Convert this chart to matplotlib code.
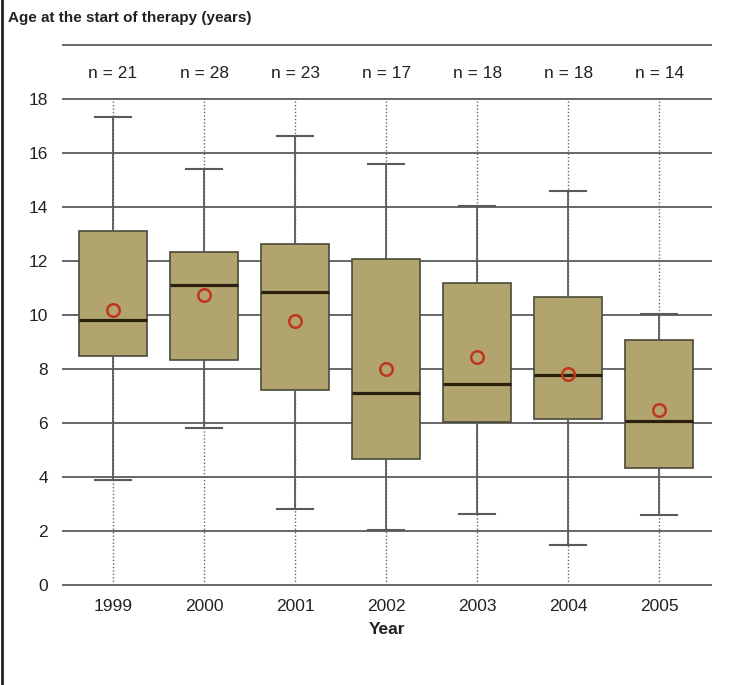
import matplotlib.pyplot as plt
import matplotlib.lines as mlines

plt.rcParams['font.family'] = ['Liberation Sans Narrow', 'Liberation Sans', 'DejaVu Sans']

years = ['1999', '2000', '2001', '2002', '2003', '2004', '2005']
n_counts = [21, 28, 23, 17, 18, 18, 14]
whisker_lo = [3.89, 5.81, 2.81, 2.04, 2.63, 1.48, 2.59]
q1 = [8.48, 8.33, 7.22, 4.67, 6.04, 6.15, 4.33]
median = [9.81, 11.11, 10.85, 7.11, 7.44, 7.78, 6.07]
q3 = [13.11, 12.33, 12.63, 12.07, 11.19, 10.67, 9.07]
whisker_hi = [17.33, 15.41, 16.63, 15.59, 14.04, 14.59, 10.04]
mean = [10.19, 10.74, 9.78, 8.0, 8.44, 7.81, 6.48]

grid_c = '#5a5a5a'
box_c = '#b1a46e'

fig = plt.figure(figsize=(7.29, 6.85), dpi=100)
ax = fig.add_axes([62/729, (685-587.7)/685, 650/729, 545.4/685])

stats = []
for i in range(len(years)):
    stats.append({'whislo': whisker_lo[i], 'q1': q1[i], 'med': median[i],
                  'q3': q3[i], 'whishi': whisker_hi[i], 'mean': mean[i],
                  'fliers': [], 'label': years[i]})

pos = list(range(len(years)))

# horizontal grid + dotted verticals
for v in range(0, 19, 2):
    ax.axhline(v, color=grid_c, lw=1.3, zorder=1)
ax.axhline(20, color=grid_c, lw=1.3, zorder=1)
for p in pos:
    ax.plot([p, p], [0, 18], color='#666666', lw=1, ls=(0, (1, 1.5)), zorder=1)

ax.bxp(stats, positions=pos, widths=0.75, capwidths=0.4, showmeans=True,
       patch_artist=True,
       boxprops=dict(facecolor=box_c, edgecolor='#4a4a3a', lw=1.2),
       whiskerprops=dict(color=grid_c, lw=1.3),
       capprops=dict(color=grid_c, lw=1.5),
       medianprops=dict(color='#2b2010', lw=2.3),
       meanprops=dict(marker='o', markerfacecolor='none', markeredgecolor='#c0361a',
                      markersize=9, markeredgewidth=1.8),
       zorder=3)

for p, n in zip(pos, n_counts):
    ax.text(p, 18.96, 'n = %d' % n, ha='center', va='center', fontsize=12.5, color='#222222')

ax.set_xlim(-0.56, 6.58)
ax.set_ylim(-0.1, 20.1)
ax.set_yticks(range(0, 19, 2))
ax.set_xticks(pos)
ax.set_xticklabels(years)
ax.tick_params(axis='both', length=0, labelsize=12.5, labelcolor='#222222')
ax.tick_params(axis='y', pad=10)
ax.tick_params(axis='x', pad=8)
for s in ax.spines.values():
    s.set_visible(False)

ax.set_xlabel('Year', fontsize=12.5, fontweight='bold', labelpad=6, color='#222222')
fig.text(8/729, 1 - 18/685, 'Age at the start of therapy (years)', fontsize=11,
         fontweight='bold', ha='left', va='center', color='#222222')

# left frame line
fig.add_artist(mlines.Line2D([2/729, 2/729], [0, 1], color='#222222', lw=2))

fig.savefig('out.png', dpi=100)
